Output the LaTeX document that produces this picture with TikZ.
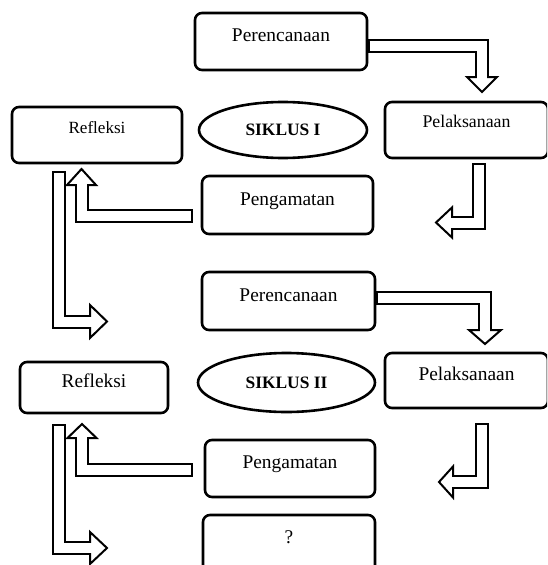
\documentclass[tikz,border=0pt]{standalone}
\usepackage{fontspec}
\setmainfont{Liberation Serif}
\usepackage{tikz}
\usetikzlibrary{shapes,positioning,calc}

\begin{document}
\begin{tikzpicture}[x=1pt, y=-1pt,
    box/.style={rectangle, rounded corners=7pt, draw, line width=2.6pt, align=center,
        text height=13pt, text depth=13pt, font=\fontsize{19.4}{23}\selectfont},
    cycle/.style={ellipse, draw, line width=2.6pt, inner sep=0pt,
        font=\fontsize{17.4}{21}\selectfont\bfseries},
    bandout/.style={line width=14pt, line join=miter, shorten <=-2pt},
    bandin/.style={line width=10pt, white, line join=miter},
    head/.style={draw, fill=white, line width=2pt, line join=miter}
]
\clip (0,0) rectangle (547,565);

% Siklus I
\node[box, minimum width=172pt, minimum height=57pt] (per1) at (281,41.5) {Perencanaan};
\node[box, minimum width=163pt, minimum height=56pt, text depth=19pt, font=\fontsize{17.8}{21}\selectfont] (pel1) at (466.5,130) {Pelaksanaan};
\node[box, minimum width=170pt, minimum height=56pt, text depth=17pt, font=\fontsize{17.1}{21}\selectfont] (ref1) at (97,135) {Refleksi};
\node[cycle, minimum width=168pt, minimum height=56pt] (sik1) at (283,130) {SIKLUS I};
\node[box, minimum width=171pt, minimum height=58pt] (pen1) at (287.5,205) {Pengamatan};

% Siklus II
\node[box, minimum width=173pt, minimum height=58pt] (per2) at (288.5,301) {Perencanaan};
\node[box, minimum width=163pt, minimum height=55pt] (pel2) at (466.5,380.5) {Pelaksanaan};
\node[box, minimum width=148pt, minimum height=51pt] (ref2) at (94,387.5) {Refleksi};
\node[cycle, minimum width=177pt, minimum height=59pt] (sik2) at (286.5,382.5) {SIKLUS II};
\node[box, minimum width=170pt, minimum height=57pt] (pen2) at (290,468.5) {Pengamatan};
\node[box, minimum width=172pt, minimum height=57pt] (next) at (289,543.5) {?};

% Arrow tips
\coordinate (tipA1) at (482,92);
\coordinate (tipB1) at (436,222.5);
\coordinate (tipC1) at (81.5,169);
\coordinate (tipD1) at (107,321.5);
\coordinate (tipA2) at (485,344);
\coordinate (tipB2) at (439,482);
\coordinate (tipC2) at (82,424);
\coordinate (tipD2) at (107,548);

% Arrows siklus I
\draw[bandout] ($(per1.east)+(1.3,4.5)$) -| ($(tipA1)+(0,-15)$);
\draw[head] (tipA1) -- ++(-15,-15) -- ++(30,0) -- cycle;
\draw[bandin] ($(per1.east)+(1.3,4.5)$) -| ($(tipA1)+(0,-13)$);

\draw[bandout] ($(pel1.south)+(12,6)$) |- ($(tipB1)+(16,0)$);
\draw[head] (tipB1) -- ++(16,-15) -- ++(0,30) -- cycle;
\draw[bandin] ($(pel1.south)+(12,6)$) |- ($(tipB1)+(14,0)$);

\draw[bandout] ($(pen1.west)+(-10,10.5)$) -| ($(tipC1)+(0,16)$);
\draw[head] (tipC1) -- ++(-14.5,16) -- ++(29,0) -- cycle;
\draw[bandin] ($(pen1.west)+(-10,10.5)$) -| ($(tipC1)+(0,14)$);

\draw[bandout] ($(ref1.south)+(-38.5,9)$) |- ($(tipD1)+(-17,0)$);
\draw[head] (tipD1) -- ++(-17,-16.5) -- ++(0,33) -- cycle;
\draw[bandin] ($(ref1.south)+(-38.5,9)$) |- ($(tipD1)+(-15,0)$);

% Arrows siklus II
\draw[bandout] ($(per2.east)+(1.3,-3)$) -| ($(tipA2)+(0,-14)$);
\draw[head] (tipA2) -- ++(-16,-14) -- ++(32,0) -- cycle;
\draw[bandin] ($(per2.east)+(1.3,-3)$) -| ($(tipA2)+(0,-12)$);

\draw[bandout] ($(pel2.south)+(15.5,16)$) |- ($(tipB2)+(14,0)$);
\draw[head] (tipB2) -- ++(14,-15.5) -- ++(0,31) -- cycle;
\draw[bandin] ($(pel2.south)+(15.5,16)$) |- ($(tipB2)+(12,0)$);

\draw[bandout] ($(pen2.west)+(-13,1.5)$) -| ($(tipC2)+(0,14)$);
\draw[head] (tipC2) -- ++(-14.5,14) -- ++(29,0) -- cycle;
\draw[bandin] ($(pen2.west)+(-13,1.5)$) -| ($(tipC2)+(0,12)$);

\draw[bandout] ($(ref2.south)+(-35.5,12)$) |- ($(tipD2)+(-17,0)$);
\draw[head] (tipD2) -- ++(-17,-16) -- ++(0,32) -- cycle;
\draw[bandin] ($(ref2.south)+(-35.5,12)$) |- ($(tipD2)+(-15,0)$);

\end{tikzpicture}
\end{document}
